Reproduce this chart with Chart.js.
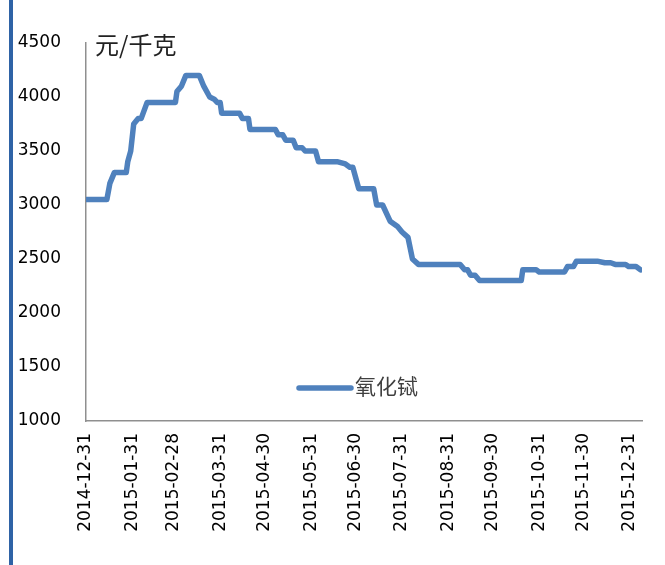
<!DOCTYPE html>
<html>
<head>
<meta charset="utf-8">
<script src="https://cdn.jsdelivr.net/npm/chart.js@4/dist/chart.umd.min.js"></script>
<style>
  html, body { margin: 0; padding: 0; background: #fff; }
  #wrap { position: relative; width: 665px; height: 565px; }
  #bar { position: absolute; left: 9px; top: 0; width: 4px; height: 565px; background: #2f63a6; }
  canvas { position: absolute; left: 0; top: 0; }
</style>
</head>
<body>
<div id="wrap">
  <canvas id="c" width="665" height="565"></canvas>
  <div id="bar"></div>
</div>
<script>
// ---- data ----
const seriesName = "氧化铽";
const unitLabel = "元/千克";
const dates = [
  "2014-12-31","2015-01-14","2015-01-16","2015-01-19","2015-01-27","2015-01-28","2015-01-30",
  "2015-02-01","2015-02-04","2015-02-06","2015-02-10","2015-03-01","2015-03-02","2015-03-05",
  "2015-03-08","2015-03-17","2015-03-20","2015-03-24","2015-03-27","2015-03-29","2015-03-31",
  "2015-04-01","2015-04-13","2015-04-15","2015-04-19","2015-04-20","2015-05-07","2015-05-09",
  "2015-05-12","2015-05-14","2015-05-19","2015-05-21","2015-05-25","2015-05-27","2015-06-03",
  "2015-06-05","2015-06-18","2015-06-23","2015-06-26","2015-06-28","2015-07-02","2015-07-12",
  "2015-07-14","2015-07-18","2015-07-23","2015-07-28","2015-07-31","2015-08-04","2015-08-07",
  "2015-08-11","2015-09-08","2015-09-11","2015-09-13","2015-09-15","2015-09-18","2015-09-21",
  "2015-10-19","2015-10-20","2015-10-29","2015-10-31","2015-11-17","2015-11-19","2015-11-23",
  "2015-11-25","2015-12-09","2015-12-14","2015-12-18","2015-12-21","2015-12-28","2015-12-30",
  "2016-01-04","2016-01-07"
];
const prices = [
  3050,3050,3200,3300,3300,3400,3500,
  3750,3800,3800,3950,3950,4050,4100,
  4200,4200,4100,4000,3980,3950,3950,
  3850,3850,3800,3800,3700,3700,3650,
  3650,3600,3600,3530,3530,3500,3500,
  3400,3400,3380,3350,3350,3150,3150,
  3000,3000,2850,2800,2750,2700,2500,
  2450,2450,2400,2400,2350,2350,2300,
  2300,2400,2400,2380,2380,2430,2430,
  2480,2480,2465,2465,2450,2450,2430,
  2430,2400
];
const tickLabels = [
  "2014-12-31","2015-01-31","2015-02-28","2015-03-31","2015-04-30","2015-05-31","2015-06-30",
  "2015-07-31","2015-08-31","2015-09-30","2015-10-31","2015-11-30","2015-12-31"
];
const axisStart = "2014-12-31";
const axisEnd = "2016-01-08";
const yMin = 1000, yMax = 4500, yStep = 500;

// ---- helpers ----
function dayNum(s) {
  const p = s.split("-").map(Number);
  const base = axisStart.split("-").map(Number);
  return Math.round((Date.UTC(p[0], p[1]-1, p[2]) - Date.UTC(base[0], base[1]-1, base[2])) / 86400000);
}
const points = dates.map((d, i) => ({ x: dayNum(d), y: prices[i] }));
const tickDays = tickLabels.map(dayNum);
const lineColor = "#4f81bd";

const overlay = {
  id: "overlay",
  afterDraw(chart) {
    const ctx = chart.ctx;
    ctx.save();
    ctx.fillStyle = "#222";
    ctx.font = '24px "Noto Sans CJK SC"';
    ctx.textBaseline = "middle";
    ctx.textAlign = "left";
    ctx.fillText(unitLabel, 95, 45);
    ctx.strokeStyle = lineColor;
    ctx.lineWidth = 5.5;
    ctx.lineCap = "round";
    ctx.beginPath();
    ctx.moveTo(299, 388);
    ctx.lineTo(351, 388);
    ctx.stroke();
    ctx.fillStyle = "#404040";
    ctx.font = '21px "Noto Sans CJK SC"';
    ctx.fillText(seriesName, 355, 386);
    ctx.restore();
  }
};

new Chart(document.getElementById("c"), {
  type: "line",
  data: {
    datasets: [{
      label: seriesName,
      data: points,
      borderColor: lineColor,
      backgroundColor: lineColor,
      borderWidth: 5.5,
      pointRadius: 0,
      tension: 0,
      borderJoinStyle: "round",
      borderCapStyle: "round",
      fill: false
    }]
  },
  options: {
    responsive: false,
    animation: false,
    devicePixelRatio: 1,
    layout: { padding: { top: 43, right: 23, left: 0, bottom: 0 } },
    plugins: { legend: { display: false }, tooltip: { enabled: false } },
    scales: {
      x: {
        type: "linear",
        min: 0,
        max: dayNum(axisEnd),
        grid: { display: false, drawTicks: false },
        border: { display: true, color: "#8f8f8f", width: 1.5 },
        afterBuildTicks(scale) { scale.ticks = tickDays.map(v => ({ value: v })); },
        afterFit(scale) { scale.height = 144; },
        ticks: {
          autoSkip: false,
          minRotation: 90,
          maxRotation: 90,
          padding: 12,
          color: "#000",
          font: { family: "DejaVu Sans", size: 17 },
          callback(v) { const i = tickDays.indexOf(v); return i >= 0 ? tickLabels[i] : ""; }
        }
      },
      y: {
        min: yMin,
        max: yMax,
        grid: { display: false, drawTicks: false },
        border: { display: true, color: "#8f8f8f", width: 1.5 },
        afterFit(scale) { scale.width = 86; },
        ticks: {
          stepSize: yStep,
          padding: 25,
          color: "#000",
          font: { family: "DejaVu Sans", size: 17 },
          callback(v) { return String(v); }
        }
      }
    }
  },
  plugins: [overlay]
});
</script>
</body>
</html>
